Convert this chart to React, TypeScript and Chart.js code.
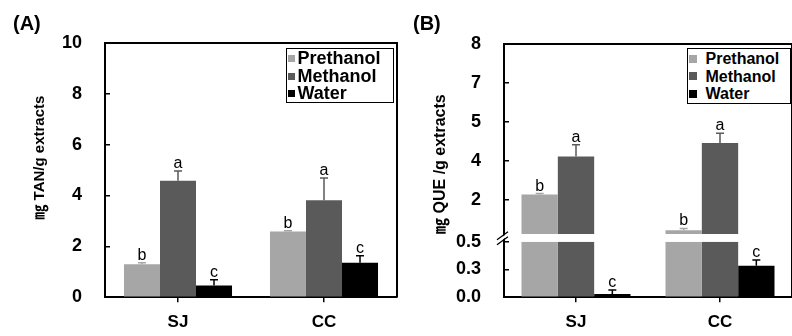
import React, { useEffect, useRef } from 'react';
import { Chart, registerables } from 'chart.js';

Chart.register(...registerables);

const FONT = "'Liberation Sans', Arial, 'Noto Sans CJK KR', 'DejaVu Sans', sans-serif";
Chart.defaults.font.family = FONT;
Chart.defaults.color = '#000';

// ---------- shared ----------
const CATEGORIES = ['SJ', 'CC'];
const SERIES = ['Prethanol', 'Methanol', 'Water'];
const COLORS = ['#a6a6a6', '#5a5a5a', '#000000'];

// ---------- Panel A: mg TAN/g extracts ----------
const TAN_PRETHANOL = [1.3, 2.58];
const TAN_METHANOL = [4.58, 3.81];
const TAN_WATER = [0.46, 1.36];
const TAN_ERR_PRETHANOL = [0.06, 0.03];
const TAN_ERR_METHANOL = [0.38, 0.88];
const TAN_ERR_WATER = [0.23, 0.27];
const TAN_LETTERS_PRETHANOL = ['b', 'b'];
const TAN_LETTERS_METHANOL = ['a', 'a'];
const TAN_LETTERS_WATER = ['c', 'c'];
const TAN_TICKS = [0, 2, 4, 6, 8, 10];

// ---------- Panel B: mg QUE/g extracts (broken axis) ----------
const QUE_PRETHANOL = [2.21, 0.84];
const QUE_METHANOL = [3.68, 4.19];
const QUE_WATER = [0.029, 0.283];
const QUE_ERR_PRETHANOL = [0.04, 0.07];
const QUE_ERR_METHANOL = [0.45, 0.38];
const QUE_ERR_WATER = [0.035, 0.053];
const QUE_LETTERS_PRETHANOL = ['b', 'b'];
const QUE_LETTERS_METHANOL = ['a', 'a'];
const QUE_LETTERS_WATER = ['c', 'c'];
const QUE_LOW_TICKS = [0, 0.25, 0.5];
const QUE_HIGH_TICKS = [2, 3.5, 5, 6.5, 8];
const QUE_LOW_MAX = 0.5;
const QUE_HIGH_MIN = 0.7;
const QUE_HIGH_MAX = 8;

const TAN_MEANS = [TAN_PRETHANOL, TAN_METHANOL, TAN_WATER];
const TAN_ERRS = [TAN_ERR_PRETHANOL, TAN_ERR_METHANOL, TAN_ERR_WATER];
const TAN_LETTERS = [TAN_LETTERS_PRETHANOL, TAN_LETTERS_METHANOL, TAN_LETTERS_WATER];
const QUE_MEANS = [QUE_PRETHANOL, QUE_METHANOL, QUE_WATER];
const QUE_ERRS = [QUE_ERR_PRETHANOL, QUE_ERR_METHANOL, QUE_ERR_WATER];
const QUE_LETTERS = [QUE_LETTERS_PRETHANOL, QUE_LETTERS_METHANOL, QUE_LETTERS_WATER];

function annotationPlugin(
  id: string,
  means: number[][],
  errs: number[][],
  letters: string[][],
  scaleFor: (top: number) => string
) {
  return {
    id,
    afterDatasetsDraw(chart: any) {
      const ctx = chart.ctx;
      ctx.save();
      means.forEach((series, s) => {
        const meta = chart.getDatasetMeta(s);
        series.forEach((v, j) => {
          const el = meta.data[j];
          if (!el) return;
          const top = v + errs[s][j];
          const scale = chart.scales[scaleFor(top)];
          const x = el.x;
          const yBar = scale.getPixelForValue(v);
          const yTop = scale.getPixelForValue(top);
          ctx.strokeStyle = COLORS[s];
          ctx.lineWidth = 1.5;
          ctx.beginPath();
          ctx.moveTo(x, yBar);
          ctx.lineTo(x, yTop);
          ctx.moveTo(x - 4, yTop);
          ctx.lineTo(x + 4, yTop);
          ctx.stroke();
          ctx.fillStyle = '#000';
          ctx.font = `16px ${FONT}`;
          ctx.textAlign = 'center';
          ctx.textBaseline = 'alphabetic';
          ctx.fillText(letters[s][j], x, yTop - 3);
        });
      });
      ctx.restore();
    },
  };
}

const framePlugin = {
  id: 'frame',
  afterDraw(chart: any) {
    const { left, right, top, bottom } = chart.chartArea;
    const ctx = chart.ctx;
    ctx.save();
    ctx.strokeStyle = '#000';
    ctx.lineWidth = 2;
    ctx.beginPath();
    ctx.moveTo(left - 1, top);
    ctx.lineTo(right, top);
    ctx.lineTo(right, bottom);
    ctx.stroke();
    ctx.restore();
  },
};

const breakPlugin = {
  id: 'axisBreak',
  afterDraw(chart: any) {
    const gap = chart.scales.yGap;
    if (!gap) return;
    const x = chart.chartArea.left;
    const ym = (gap.top + gap.bottom) / 2;
    const ctx = chart.ctx;
    ctx.save();
    ctx.fillStyle = '#fff';
    ctx.beginPath();
    ctx.moveTo(x - 7, ym + 6);
    ctx.lineTo(x + 4, ym - 2);
    ctx.lineTo(x + 4, ym - 5);
    ctx.lineTo(x - 7, ym + 3);
    ctx.closePath();
    ctx.fill();
    ctx.strokeStyle = '#000';
    ctx.lineWidth = 1.3;
    ctx.beginPath();
    ctx.moveTo(x - 7, ym + 7);
    ctx.lineTo(x + 4, ym - 1);
    ctx.moveTo(x - 7, ym + 2);
    ctx.lineTo(x + 4, ym - 6);
    ctx.stroke();
    ctx.restore();
  },
};

function yAxisBase(ticksArr: number[], fmt: (v: number) => string, width: number) {
  return {
    type: 'linear',
    position: 'left',
    stacked: false,
    afterBuildTicks: (s: any) => {
      s.ticks = ticksArr.map((value) => ({ value }));
    },
    afterFit: (s: any) => {
      s.width = width;
    },
    ticks: {
      autoSkip: false,
      color: '#000',
      font: { size: 18, weight: 'bold' },
      padding: 28,
      callback: (v: any) => fmt(Number(v)),
    },
    grid: {
      display: true,
      drawOnChartArea: false,
      drawTicks: true,
      tickLength: -5,
      color: '#000',
      lineWidth: 1.5,
    },
    border: { display: true, color: '#000', width: 2 },
  };
}

function xAxis(height: number) {
  return {
    type: 'category',
    position: 'bottom',
    offset: true,
    grid: {
      display: true,
      drawOnChartArea: false,
      drawTicks: true,
      offset: false,
      tickLength: 5,
      color: '#000',
      lineWidth: 1.5,
    },
    border: { display: true, color: '#000', width: 2 },
    ticks: { color: '#000', font: { size: 17, weight: 'bold' }, padding: 10, autoSkip: false, maxRotation: 0 },
    afterFit: (s: any) => {
      s.height = height;
    },
  };
}

function makeChartA(): any {
  return {
    type: 'bar',
    data: {
      labels: CATEGORIES,
      datasets: SERIES.map((name, s) => ({
        label: name,
        data: TAN_MEANS[s],
        backgroundColor: COLORS[s],
        borderWidth: 0,
        barPercentage: 1,
        categoryPercentage: 0.74,
      })),
    },
    options: {
      animation: false,
      responsive: true,
      maintainAspectRatio: false,
      events: [],
      layout: { padding: { left: 0, top: 43, right: 3, bottom: 0 } },
      plugins: { legend: { display: false }, tooltip: { enabled: false }, title: { display: false } },
      scales: {
        x: xAxis(33),
        y: {
          ...yAxisBase(TAN_TICKS, (v) => String(v), 105),
          min: 0,
          max: 10,
          title: {
            display: true,
            text: '      ㎎ TAN/g extracts',
            color: '#000',
            font: { size: 15, weight: 'bold' },
            padding: { top: 31, bottom: 0 },
          },
        },
      },
    },
    plugins: [annotationPlugin('annotA', TAN_MEANS, TAN_ERRS, TAN_LETTERS, () => 'y'), framePlugin],
  };
}

function makeChartB(): any {
  const common = { borderWidth: 0, barPercentage: 1, categoryPercentage: 0.757 };
  return {
    type: 'bar',
    data: {
      labels: CATEGORIES,
      datasets: [
        ...SERIES.map((name, s) => ({
          label: name,
          stack: name,
          yAxisID: 'yLow',
          data: QUE_MEANS[s].map((v) => Math.min(v, QUE_LOW_MAX)),
          backgroundColor: COLORS[s],
          ...common,
        })),
        ...SERIES.map((name, s) => ({
          label: name,
          stack: name,
          yAxisID: 'yHigh',
          data: QUE_MEANS[s].map((v) => (v > QUE_HIGH_MIN ? [QUE_HIGH_MIN, v] : null)),
          backgroundColor: COLORS[s],
          ...common,
        })),
      ],
    },
    options: {
      animation: false,
      responsive: true,
      maintainAspectRatio: false,
      events: [],
      layout: { padding: { left: 0, top: 44, right: 8, bottom: 0 } },
      plugins: { legend: { display: false }, tooltip: { enabled: false }, title: { display: false } },
      scales: {
        x: xAxis(32),
        yLow: {
          ...yAxisBase(QUE_LOW_TICKS, (v) => v.toFixed(1), 104),
          min: 0,
          max: QUE_LOW_MAX,
          stack: 'que',
          stackWeight: 57,
        },
        yGap: {
          type: 'linear',
          position: 'left',
          stacked: false,
          min: 0,
          max: 1,
          stack: 'que',
          stackWeight: 8,
          ticks: { display: false },
          grid: { display: false },
          border: { display: true, color: '#000', width: 2 },
          afterFit: (s: any) => {
            s.width = 104;
          },
        },
        yHigh: {
          ...yAxisBase(QUE_HIGH_TICKS, (v) => v.toFixed(0), 104),
          min: QUE_HIGH_MIN,
          max: QUE_HIGH_MAX,
          stack: 'que',
          stackWeight: 195,
          title: {
            display: true,
            text: '㎎ QUE /g extracts',
            align: 'start',
            color: '#000',
            font: { size: 16, weight: 'bold' },
            padding: { top: 31, bottom: 0 },
          },
        },
      },
    },
    plugins: [
      annotationPlugin('annotB', QUE_MEANS, QUE_ERRS, QUE_LETTERS, (top) => (top <= QUE_LOW_MAX ? 'yLow' : 'yHigh')),
      framePlugin,
      breakPlugin,
    ],
  };
}

function ChartBox({ left, width, make }: { left: number; width: number; make: () => any }) {
  const ref = useRef<HTMLCanvasElement>(null);
  useEffect(() => {
    const chart = new Chart(ref.current as HTMLCanvasElement, make());
    return () => chart.destroy();
  }, []);
  return (
    <div style={{ position: 'absolute', left, top: 0, width, height: 336 }}>
      <canvas ref={ref} />
    </div>
  );
}

function Legend({
  left,
  width,
  height,
  fontSize,
  squareSize,
  squareLeft,
  gap,
}: {
  left: number;
  width: number;
  height: number;
  fontSize: number;
  squareSize: number;
  squareLeft: number;
  gap: number;
}) {
  return (
    <div
      style={{
        position: 'absolute',
        left,
        top: 48,
        width,
        height,
        boxSizing: 'border-box',
        border: '1.5px solid #000',
        background: '#fff',
        paddingTop: 1,
        fontFamily: FONT,
        fontWeight: 'bold',
        fontSize,
        color: '#000',
        whiteSpace: 'nowrap',
      }}
    >
      {SERIES.map((name, i) => (
        <div key={name} style={{ display: 'flex', alignItems: 'center', height: 17.5, lineHeight: '17.5px' }}>
          <span
            style={{
              display: 'inline-block',
              width: squareSize,
              height: squareSize,
              background: COLORS[i],
              marginLeft: squareLeft,
              marginRight: gap,
              flex: 'none',
            }}
          />
          <span>{name}</span>
        </div>
      ))}
    </div>
  );
}

const panelLabelStyle = (left: number): React.CSSProperties => ({
  position: 'absolute',
  left,
  top: 13,
  fontFamily: FONT,
  fontWeight: 'bold',
  fontSize: 20,
  lineHeight: '20px',
  color: '#000',
});

export default function App() {
  return (
    <div
      style={{
        position: 'fixed',
        left: 0,
        top: 0,
        width: 792,
        height: 336,
        overflow: 'hidden',
        background: '#fff',
      }}
    >
      <ChartBox left={0} width={400} make={makeChartA} />
      <ChartBox left={400} width={400} make={makeChartB} />
      <div style={panelLabelStyle(13)}>(A)</div>
      <div style={panelLabelStyle(413)}>(B)</div>
      <Legend left={286} width={108} height={55} fontSize={18} squareSize={7} squareLeft={0.5} gap={3} />
      <Legend left={687} width={104} height={56} fontSize={16} squareSize={8} squareLeft={0.5} gap={9} />
    </div>
  );
}
